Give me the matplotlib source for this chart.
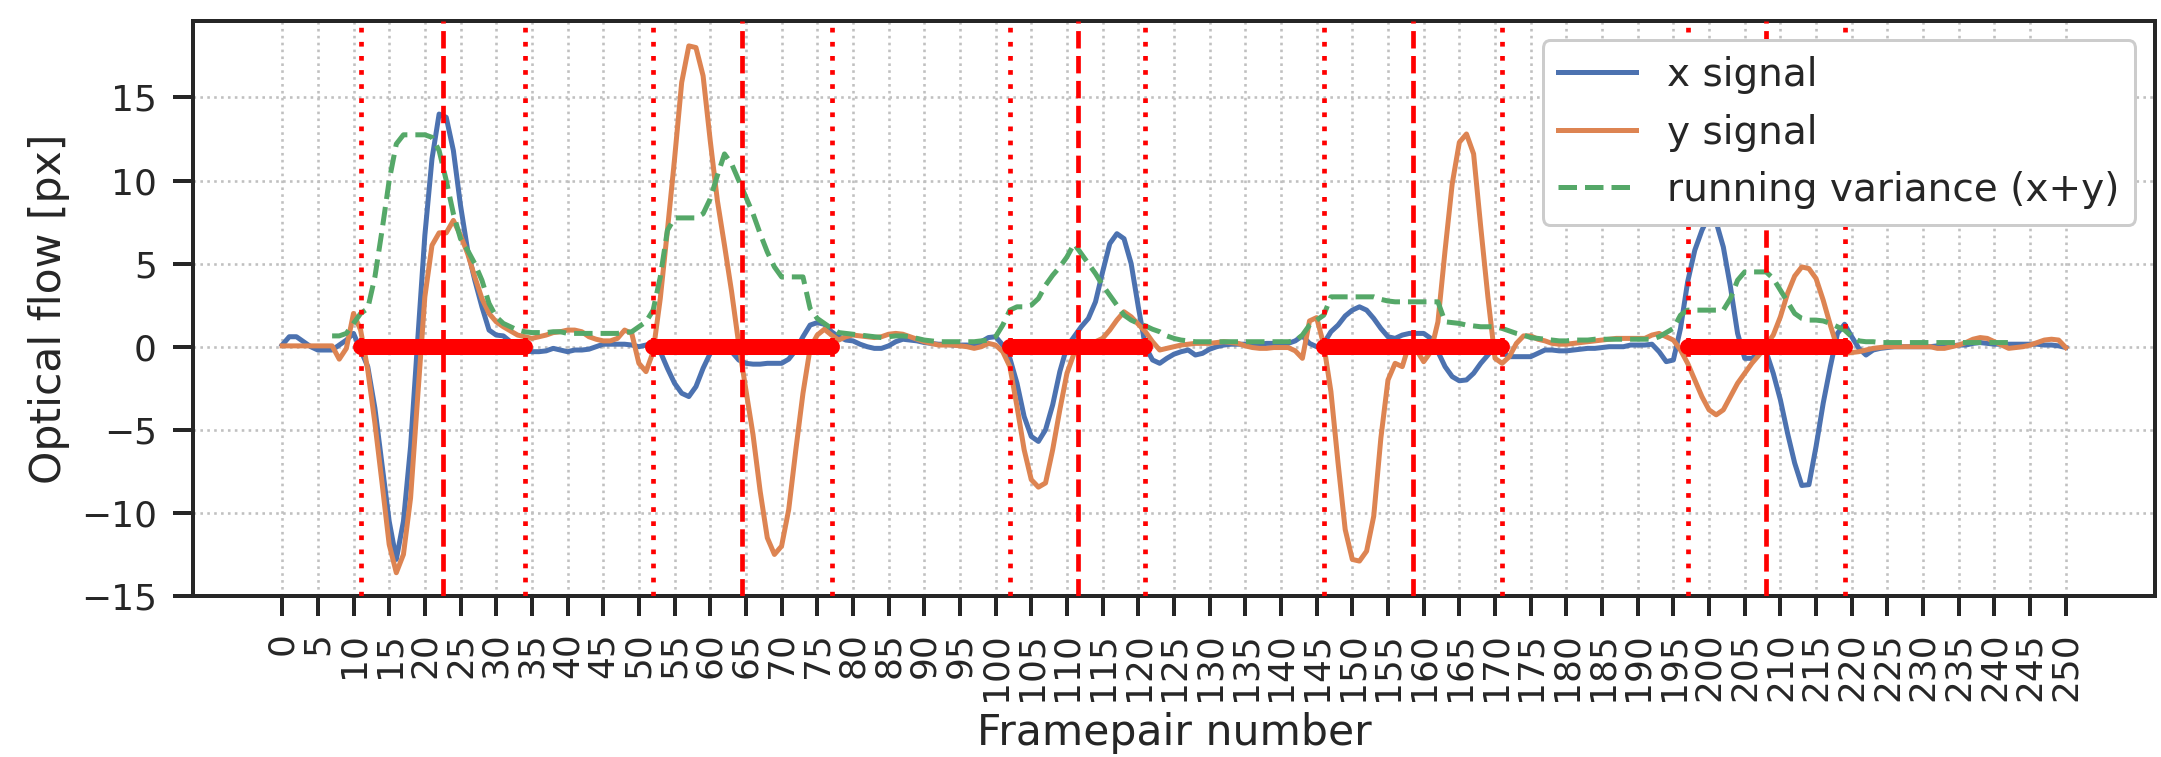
import matplotlib
matplotlib.use('Agg')
import matplotlib.pyplot as plt
import numpy as np

# ---------------- data ----------------
x_signal = [
    0.1, 0.6, 0.6, 0.3, 0.0, -0.2, -0.2, -0.2, 0.1, 0.4,            # 0-9
    0.8, -0.2, -1.2, -3.7, -7.1, -10.5, -12.8, -10.5, -6.0, 0.4,    # 10-19
    6.7, 11.3, 14.0, 13.8, 11.8, 8.5, 5.8, 4.0, 2.4, 1.0,           # 20-29
    0.7, 0.65, 0.3, 0.0, -0.25, -0.3, -0.3, -0.25, -0.1, -0.2,      # 30-39
    -0.3, -0.2, -0.2, -0.15, 0.0, 0.15, 0.15, 0.15, 0.15, 0.1,      # 40-49
    0.0, 0.1, 0.2, -0.3, -1.3, -2.2, -2.8, -3.0, -2.4, -1.3,        # 50-59
    -0.4, 0.0, 0.1, -0.3, -0.8, -1.0, -1.05, -1.05, -1.0, -1.0,     # 60-69
    -1.0, -0.75, -0.2, 0.6, 1.3, 1.45, 1.35, 0.9, 0.6, 0.4,         # 70-79
    0.35, 0.15, 0.0, -0.1, -0.1, 0.05, 0.3, 0.45, 0.4, 0.35,        # 80-89
    0.25, 0.2, 0.15, 0.15, 0.1, 0.1, 0.1, 0.05, 0.3, 0.55,          # 90-99
    0.6, 0.1, -0.7, -2.2, -4.2, -5.4, -5.7, -5.0, -3.5, -1.5,       # 100-109
    0.0, 0.6, 1.2, 1.7, 2.7, 4.5, 6.2, 6.8, 6.5, 5.0,               # 110-119
    2.4, 0.0, -0.8, -1.0, -0.7, -0.45, -0.3, -0.2, -0.5, -0.4,      # 120-129
    -0.15, 0.0, 0.1, 0.15, 0.15, 0.15, 0.15, 0.15, 0.2, 0.2,        # 130-139
    0.2, 0.2, 0.35, 0.65, 0.2, 0.0, 0.2, 0.9, 1.3, 1.85,            # 140-149
    2.2, 2.4, 2.2, 1.7, 1.1, 0.6, 0.5, 0.7, 0.8, 0.8,               # 150-159
    0.8, 0.5, -0.3, -1.2, -1.8, -2.05, -2.0, -1.6, -1.0, -0.5,      # 160-169
    0.0, -0.3, -0.6, -0.6, -0.6, -0.6, -0.4, -0.2, -0.2, -0.25,     # 170-179
    -0.25, -0.2, -0.15, -0.1, -0.1, -0.05, 0.0, 0.0, 0.0, 0.1,      # 180-189
    0.1, 0.1, 0.15, -0.3, -0.9, -0.8, 1.1, 3.9, 5.8, 7.0,           # 190-199
    7.9, 7.5, 6.0, 3.6, 0.8, -0.7, -0.7, -0.4, -0.3, -1.6,          # 200-209
    -3.2, -5.2, -7.0, -8.35, -8.3, -6.0, -3.4, -1.2, 0.8, 1.35,     # 210-219
    0.6, -0.1, -0.5, -0.2, -0.1, -0.05, 0.0, 0.0, 0.0, 0.0,         # 220-229
    0.0, 0.0, 0.05, 0.05, 0.05, 0.1, 0.1, 0.2, 0.25, 0.2,           # 230-239
    0.15, 0.15, 0.15, 0.15, 0.15, 0.15, 0.15, 0.1, 0.1, 0.05,       # 240-249
    -0.05,                                                          # 250
]

y_signal = [
    0.05, 0.05, 0.05, 0.05, 0.05, 0.05, 0.05, 0.05, -0.75, -0.1,    # 0-9
    2.0, 1.0, -1.4, -4.6, -8.2, -11.9, -13.6, -12.5, -9.1, -3.0,    # 10-19
    3.0, 6.1, 6.85, 6.85, 7.6, 6.7, 5.6, 4.2, 2.9, 2.0,             # 20-29
    1.5, 1.2, 0.95, 0.7, 0.6, 0.5, 0.6, 0.7, 0.85, 0.9,             # 30-39
    1.0, 1.0, 0.9, 0.6, 0.45, 0.35, 0.35, 0.5, 1.0, 0.8,            # 40-49
    -1.0, -1.5, -0.3, 2.9, 7.0, 11.3, 15.9, 18.1, 18.0, 16.3,       # 50-59
    12.4, 8.8, 6.1, 3.3, 0.15, -2.6, -5.3, -8.7, -11.5, -12.5,      # 60-69
    -12.0, -9.8, -6.2, -2.8, -0.1, 0.7, 1.05, 0.7, 0.4, 0.6,        # 70-79
    0.7, 0.65, 0.6, 0.55, 0.6, 0.75, 0.8, 0.75, 0.6, 0.45,          # 80-89
    0.3, 0.2, 0.1, 0.1, 0.1, 0.05, 0.0, -0.1, 0.0, 0.2,             # 90-99
    0.1, -0.3, -1.2, -3.6, -6.2, -8.0, -8.45, -8.2, -6.2, -3.8,     # 100-109
    -1.6, -0.4, 0.0, 0.2, 0.3, 0.5, 1.0, 1.6, 2.1, 1.8,             # 110-119
    1.35, 0.9, 0.3, -0.2, -0.1, 0.0, 0.1, 0.15, 0.2, 0.2,           # 120-129
    0.2, 0.25, 0.3, 0.25, 0.2, 0.05, -0.05, -0.1, -0.1, -0.05,      # 130-139
    -0.05, -0.05, -0.25, -0.7, 1.55, 1.75, 0.1, -2.7, -7.0, -11.0,  # 140-149
    -12.8, -12.9, -12.3, -10.2, -5.5, -2.0, -1.0, -1.2, 0.2, -0.2,  # 150-159
    -0.9, -0.3, 1.5, 5.8, 9.8, 12.3, 12.8, 11.6, 7.2, 3.0,          # 160-169
    -0.7, -1.0, -0.6, 0.2, 0.65, 0.65, 0.45, 0.35, 0.2, 0.15,       # 170-179
    0.15, 0.2, 0.25, 0.3, 0.35, 0.4, 0.45, 0.5, 0.5, 0.5,           # 180-189
    0.5, 0.5, 0.7, 0.8, 0.6, 0.4, -0.2, -1.0, -2.0, -3.0,           # 190-199
    -3.8, -4.1, -3.8, -3.0, -2.2, -1.6, -1.0, -0.5, 0.1, 0.7,       # 200-209
    1.8, 3.2, 4.25, 4.8, 4.7, 4.1, 2.8, 1.3, -0.1, -0.4,            # 210-219
    -0.35, -0.3, -0.2, -0.1, -0.05, 0.0, 0.0, 0.0, 0.0, 0.0,        # 220-229
    0.0, 0.0, -0.1, -0.1, 0.0, 0.1, 0.25, 0.45, 0.55, 0.5,          # 230-239
    0.3, 0.1, -0.1, -0.05, 0.0, 0.1, 0.25, 0.4, 0.45, 0.4,          # 240-249
    -0.05,                                                          # 250
]

# running variance, defined for frames 7..243
variance_first_frame = 7
variance = [
    0.65, 0.65, 0.8,                                                # 7-9
    1.4, 2.0, 2.3, 4.2, 7.0, 10.0, 12.2, 12.75, 12.75, 12.75,       # 10-19
    12.75, 12.6, 11.8, 10.0, 8.0, 6.5, 5.8, 5.0, 4.0, 2.6,          # 20-29
    1.8, 1.4, 1.2, 1.0, 0.9, 0.85, 0.85, 0.85, 0.9, 0.9,            # 30-39
    0.8, 0.8, 0.8, 0.8, 0.8, 0.8, 0.8, 0.8, 0.85, 0.9,              # 40-49
    1.2, 1.5, 2.2, 4.2, 7.0, 7.75, 7.75, 7.75, 7.75, 8.0,           # 50-59
    8.9, 10.3, 11.6, 11.0, 10.0, 9.0, 8.0, 6.8, 5.7, 4.8,           # 60-69
    4.2, 4.2, 4.2, 4.2, 2.3, 1.7, 1.4, 1.1, 0.85, 0.8,              # 70-79
    0.75, 0.7, 0.65, 0.6, 0.55, 0.6, 0.65, 0.65, 0.6, 0.5,          # 80-89
    0.4, 0.35, 0.3, 0.3, 0.3, 0.3, 0.3, 0.3, 0.35, 0.4,             # 90-99
    0.6, 1.3, 2.2, 2.4, 2.4, 2.5, 2.9, 3.7, 4.3, 4.8,               # 100-109
    5.4, 6.2, 5.6, 5.0, 4.4, 3.7, 3.1, 2.5, 1.9, 1.6,               # 110-119
    1.4, 1.25, 1.05, 0.9, 0.65, 0.5, 0.4, 0.35, 0.3, 0.3,           # 120-129
    0.3, 0.3, 0.3, 0.3, 0.3, 0.3, 0.3, 0.3, 0.3, 0.3,               # 130-139
    0.3, 0.3, 0.35, 0.7, 1.3, 1.6, 1.9, 3.0, 3.0, 3.0,              # 140-149
    3.0, 3.0, 3.0, 3.0, 2.85, 2.75, 2.7, 2.7, 2.7, 2.7,             # 150-159
    2.7, 2.7, 2.7, 1.5, 1.45, 1.4, 1.3, 1.25, 1.2, 1.2,             # 160-169
    1.2, 1.1, 0.95, 0.8, 0.7, 0.55, 0.5, 0.45, 0.4, 0.35,           # 170-179
    0.35, 0.4, 0.4, 0.4, 0.45, 0.45, 0.45, 0.45, 0.45, 0.45,        # 180-189
    0.45, 0.45, 0.45, 0.6, 0.85, 1.1, 1.9, 2.2, 2.2, 2.2,           # 190-199
    2.2, 2.2, 2.2, 2.9, 4.0, 4.5, 4.5, 4.5, 4.5, 4.1,               # 200-209
    3.4, 2.7, 2.0, 1.7, 1.6, 1.6, 1.55, 1.4, 1.2, 1.0,              # 210-219
    0.6, 0.35, 0.3, 0.3, 0.25, 0.25, 0.25, 0.25, 0.25, 0.25,        # 220-229
    0.25, 0.25, 0.25, 0.25, 0.25, 0.25, 0.25, 0.25, 0.25, 0.25,     # 230-239
    0.25, 0.25, 0.25, 0.25,                                         # 240-243
]

event_starts = [11, 52, 102, 146, 197]
event_centers = [22.5, 64.5, 111.5, 158.5, 208]
event_ends = [34, 77, 121, 171, 219]

xtick_values = list(range(0, 251, 5))

# ---------------- figure ----------------
DPI = 200
PX = 72.0 / DPI  # points per pixel
TEXT = '#262626'

fig = plt.figure(figsize=(2161 / DPI, 757 / DPI), dpi=DPI)
ax = fig.add_axes([0.0893, 0.2127, 0.9079, 0.7596])

frames = np.arange(len(x_signal))
var_frames = np.arange(variance_first_frame, variance_first_frame + len(variance))

ax.plot(frames, x_signal, color='#4C72B0', lw=5 * PX, label='x signal', zorder=2)
ax.plot(frames, y_signal, color='#DD8452', lw=5 * PX, label='y signal', zorder=2)
ax.plot(var_frames, variance, color='#55A868', lw=5 * PX, ls='--',
        label='running variance (x+y)', zorder=2)

for s, c, e in zip(event_starts, event_centers, event_ends):
    ax.axvline(s, color='red', lw=4.7 * PX, ls=(0, (1, 2)), zorder=3)
    ax.axvline(e, color='red', lw=4.7 * PX, ls=(0, (1, 2)), zorder=3)
    ax.axvline(c, color='red', lw=4.7 * PX, ls='--', zorder=3)
    ax.plot([s, e], [0, 0], color='red', lw=16 * PX, solid_capstyle='round', zorder=4)

ax.set_xlim(-12.5, 262.5)
ax.set_ylim(-15, 19.6)
ax.set_xticks(xtick_values)
ax.set_xticklabels([str(v) for v in xtick_values], rotation=90)
ax.set_yticks([-15, -10, -5, 0, 5, 10, 15])

ax.set_axisbelow(True)
ax.grid(True, ls=':', color='#c0c0c0', lw=2.6 * PX)

ax.tick_params(axis='both', which='major', length=20 * PX, width=4 * PX,
               pad=16 * PX, labelsize=36 * PX, color=TEXT, labelcolor=TEXT,
               direction='out')
for sp in ax.spines.values():
    sp.set_linewidth(4 * PX)
    sp.set_color(TEXT)

ax.set_xlabel('Framepair number', fontsize=42.5 * PX, color=TEXT)
ax.set_ylabel('Optical flow [px]', fontsize=42.5 * PX, color=TEXT)

leg = ax.legend(loc='upper right', fontsize=39 * PX, frameon=True, fancybox=True,
                framealpha=1.0, edgecolor='#cccccc')
leg.get_frame().set_linewidth(3 * PX)
leg.set_zorder(10)
for t in leg.get_texts():
    t.set_color(TEXT)

fig.savefig('out.png', dpi=DPI)
